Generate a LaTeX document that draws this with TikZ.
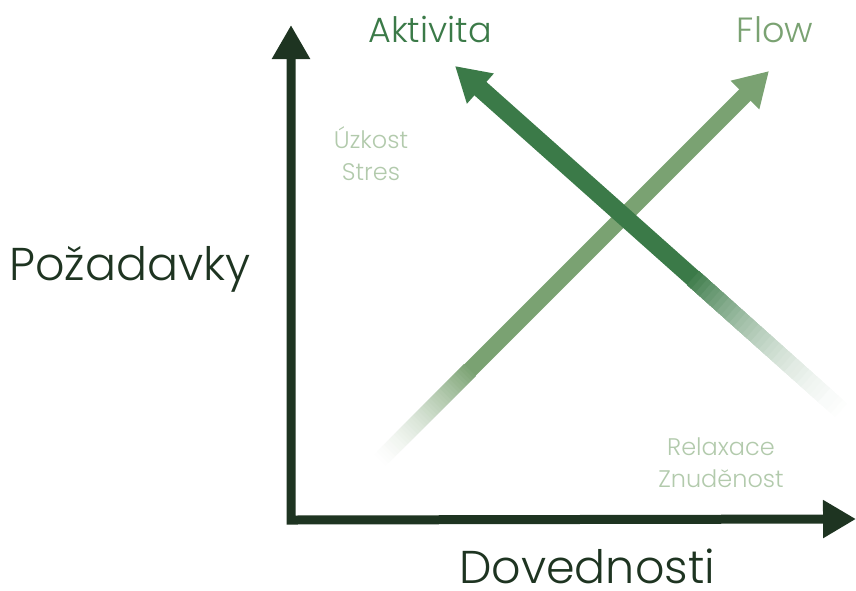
\documentclass[tikz,border=0pt]{standalone}
\usepackage{fontspec}
\setmainfont{Poppins}[UprightFont={* Light}]
\usepackage{tikz}
\usetikzlibrary{positioning, arrows.meta, calc}

\definecolor{axisdark}{RGB}{30,52,33}
\definecolor{aktivgreen}{RGB}{59,122,72}
\definecolor{flowgreen}{RGB}{122,162,114}
\definecolor{palegreen}{RGB}{178,202,172}

\begin{document}
\begin{tikzpicture}[x=1pt,y=-1pt,
    axisline/.style={draw=axisdark, line width=9pt, line join=miter},
    axislabel/.style={anchor=base, inner sep=0pt, text=axisdark, font=\fontsize{46}{50}\selectfont},
    headlabel/.style={anchor=base, font=\fontsize{35}{40}\selectfont},
    zonelabel/.style={anchor=base, text=palegreen, font=\fontsize{24}{28}\selectfont}]
    \useasboundingbox (0,0) rectangle (856,590);

    \coordinate (O) at (291,520);
    \coordinate (ytop) at (291,25);
    \coordinate (xend) at (856,519);

    % axes
    \draw[axisline, {Triangle[length=34pt,width=36pt]}-{Triangle[length=33pt,width=36pt]}]
        (ytop) -- (O) -- (xend);

    % Flow
    \coordinate (flowtail) at (373,467);
    \coordinate (flowfull) at (470,370);
    \coordinate (flowtip) at (769,71);
    \foreach \k [evaluate=\k as \p using int(100*(\k/40)^1.6)] in {0,...,40}
        \draw[line width=16pt, draw=flowgreen!\p!white] ($(flowtail)!\k/40!(flowfull)$) -- (flowfull);
    \draw[line width=16pt, draw=flowgreen, -{Triangle[length=34pt,width=38pt]}] (flowfull) -- (flowtip);

    % Aktivita
    \coordinate (aktail) at (862,429);
    \coordinate (akfull) at (693,278);
    \coordinate (aktip) at (455,66);
    \foreach \k [evaluate=\k as \p using int(100*(\k/40)^2)] in {0,...,40}
        \draw[line width=18pt, draw=aktivgreen!\p!white] ($(aktail)!\k/40!(akfull)$) -- (akfull);
    \draw[line width=18pt, draw=aktivgreen, -{Triangle[length=34pt,width=38pt]}] (akfull) -- (aktip);

    % labels
    \node[axislabel] (pozadavky) at (130,280) {Požadavky};
    \node[axislabel] (dovednosti) at (587,583) {Dovednosti};
    \node[headlabel, text=aktivgreen] (aktivita) at (430,42) {Aktivita};
    \node[headlabel, text=flowgreen] (flow) at (775,42) {Flow};
    \node[zonelabel] (uzkost) at (371,148) {Úzkost};
    \node[zonelabel] (stres) at ([yshift=-32pt]uzkost.base) {Stres};
    \node[zonelabel] (relaxace) at (721,455) {Relaxace};
    \node[zonelabel] (znudenost) at ([yshift=-32pt]relaxace.base) {Znuděnost};
\end{tikzpicture}
\end{document}
